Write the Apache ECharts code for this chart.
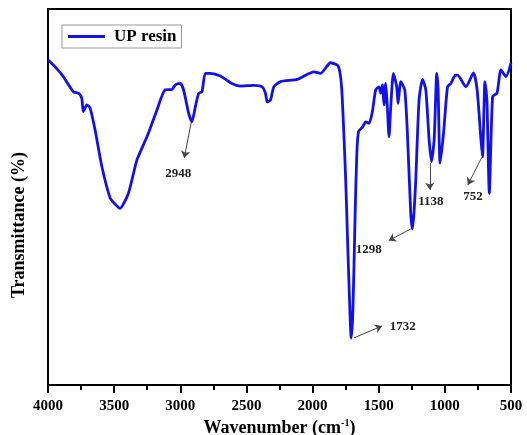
<!DOCTYPE html>
<html>
<head>
<meta charset="utf-8">
<script src="https://cdn.jsdelivr.net/npm/echarts@6/dist/echarts.min.js"></script>
<style>
  html, body { margin: 0; padding: 0; background: #fff; }
  #main { width: 527px; height: 435px; }
</style>
</head>
<body>
<div id="main"></div>
<script>
// FTIR spectrum of UP resin
var wavenumber = [4000, 3985, 3930, 3884, 3808, 3770, 3745, 3733, 3707, 3682, 3644, 3593, 3530, 3490, 3455,
  3392, 3328, 3252, 3177, 3114, 3063, 3038, 3000, 2975, 2937, 2912, 2886, 2861, 2836, 2811,
  2773, 2697, 2621, 2545, 2445, 2381, 2356, 2343, 2318, 2293, 2242, 2116, 1990, 1939, 1864,
  1813, 1795, 1780, 1765, 1750, 1735, 1720, 1708, 1697, 1688, 1678, 1665, 1652, 1624, 1598,
  1573, 1548, 1523, 1498, 1485, 1472, 1460, 1447, 1435, 1422, 1409, 1389, 1364, 1354, 1333,
  1303, 1283, 1258, 1245, 1232, 1220, 1195, 1169, 1144, 1119, 1101, 1081, 1061, 1051, 1036,
  1010, 980, 955, 920, 904, 841, 784, 756, 727, 715, 697, 682, 664, 639, 606, 576, 538, 500];
var transmittance = [86.4, 86.0, 84.0, 82.0, 78.0, 77.6, 76.3, 72.7, 74.5, 73.7, 67.8, 58.1, 49.7, 48.0, 47.0,
  51.0, 59.8, 66.0, 73.1, 78.5, 78.6, 79.8, 80.2, 78.5, 72.3, 70.0, 74.0, 77.6, 78.0, 82.9,
  82.9, 82.2, 80.4, 79.5, 79.7, 79.3, 77.6, 75.3, 75.8, 79.3, 80.7, 81.3, 83.3, 82.9, 85.7,
  85.1, 83.5, 79.0, 68.0, 55.0, 38.0, 22.0, 12.5, 18.0, 30.0, 46.0, 62.0, 67.5, 68.5, 70.0,
  69.6, 72.7, 78.5, 79.3, 77.6, 79.8, 74.5, 80.2, 74.0, 66.0, 74.0, 82.9, 79.3, 74.9, 80.7,
  78.5, 66.9, 45.7, 41.5, 46.5, 54.5, 75.8, 81.3, 78.5, 65.2, 59.4, 65.2, 82.9, 78.5, 59.0,
  66.9, 79.3, 80.2, 82.4, 82.4, 79.3, 83.0, 78.5, 65.2, 60.7, 80.7, 75.8, 51.0, 76.7, 77.6, 83.8, 82.0, 85.6];

// peak annotations: text, arrow start (at the band), arrow end, label centre
var peakNames = ['2948', '1732', '1298', '1138', '752'];
var arrowFrom = [[2917, 69.9], [1689, 12.5], [1258, 41.5], [1114, 59.0], [720, 60.6]];
var arrowTo = [[2970, 60.4], [1475, 15.7], [1424, 38.4], [1114, 51.9], [826, 53.2]];
var labelAt = [[3015, 56.1], [1318, 15.4], [1576, 35.9], [1106, 48.7], [788, 50.0]];

var xTicks = ['4000', '3500', '3000', '2500', '2000', '1500', '1000', '500'];

var font = 'Liberation Serif';
var chart = echarts.init(document.getElementById('main'));

var lineData = wavenumber.map(function (w, i) { return [w, transmittance[i]]; });
var arrows = peakNames.map(function (n, i) {
  return [{ coord: arrowFrom[i], symbol: 'none' }, { coord: arrowTo[i], symbol: 'arrow' }];
});
var peakLabels = peakNames.map(function (n, i) {
  return { name: n, coord: labelAt[i], value: n };
});

var option = {
  animation: false,
  backgroundColor: '#fff',
  grid: {
    left: 48, right: 16, top: 9, bottom: 50,
    outerBoundsMode: 'none',
    show: true, borderColor: '#000', borderWidth: 2, backgroundColor: 'transparent'
  },
  legend: {
    left: 62, top: 25,
    data: ['UP resin'],
    icon: 'rect',
    itemWidth: 37, itemHeight: 3,
    itemGap: 0,
    padding: [3, 5, 3, 6],
    borderColor: '#999', borderWidth: 1,
    textStyle: { fontFamily: font, fontWeight: 'bold', fontSize: 17, color: '#000', padding: [0, 0, 0, 4] }
  },
  xAxis: {
    type: 'value',
    inverse: true,
    min: 500, max: 4000, interval: 500,
    name: 'Wavenumber (cm{s|-1})',
    nameLocation: 'middle',
    nameGap: 27,
    nameTextStyle: {
      fontFamily: font, fontWeight: 'bold', fontSize: 18, color: '#000',
      rich: { s: { fontFamily: font, fontWeight: 'bold', fontSize: 10, verticalAlign: 'top', padding: [0, 0, 9, 0] } }
    },
    axisLine: { lineStyle: { color: '#000', width: 2 } },
    axisTick: { inside: false, length: 8, lineStyle: { color: '#000', width: 2 } },
    minorTick: { show: true, splitNumber: 2, length: 5, lineStyle: { color: '#000', width: 2 } },
    splitLine: { show: false },
    axisLabel: {
      margin: 14,
      fontFamily: font, fontWeight: 'bold', fontSize: 15, color: '#000',
      formatter: function (v) { return xTicks.indexOf(String(v)) >= 0 ? String(v) : ''; }
    }
  },
  yAxis: {
    type: 'value',
    min: 0, max: 100,
    name: 'Transmittance (%)',
    nameLocation: 'middle',
    nameGap: 20,
    nameTextStyle: { fontFamily: font, fontWeight: 'bold', fontSize: 18, color: '#000', padding: [0, 56, 0, 0] },
    axisLine: { show: true, lineStyle: { color: '#000', width: 2 } },
    axisTick: { show: false },
    axisLabel: { show: false },
    splitLine: { show: false }
  },
  series: [{
    name: 'UP resin',
    type: 'line',
    data: lineData,
    symbol: 'none',
    smooth: 0.2,
    lineStyle: { color: '#1010f0', width: 2.8 },
    itemStyle: { color: '#1010f0' },
    markLine: {
      silent: true,
      symbolSize: 7,
      lineStyle: { color: '#444', width: 1, type: 'solid' },
      label: { show: false },
      data: arrows
    },
    markPoint: {
      silent: true,
      symbol: 'circle',
      symbolSize: 1,
      itemStyle: { color: 'rgba(0,0,0,0)' },
      label: {
        show: true, position: 'inside',
        fontFamily: font, fontWeight: 'bold', fontSize: 13, color: '#222',
        formatter: function (p) { return p.name; }
      },
      data: peakLabels
    }
  }]
};

chart.setOption(option);
</script>
</body>
</html>
